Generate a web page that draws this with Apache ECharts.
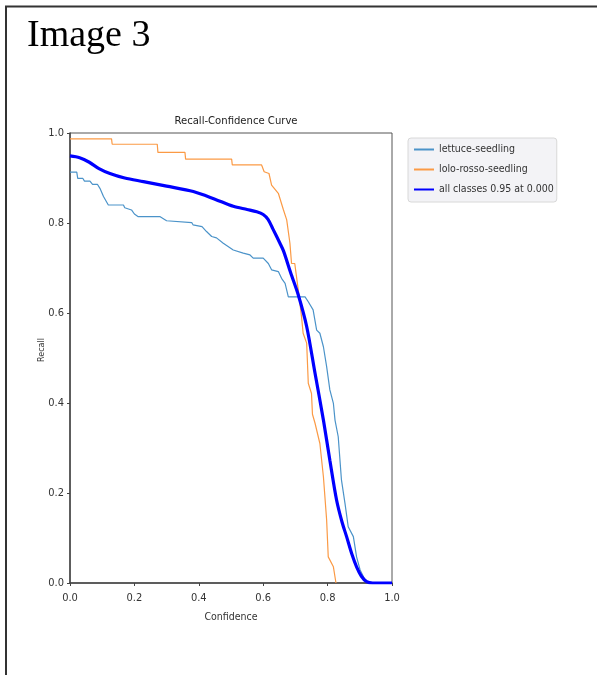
<!DOCTYPE html>
<html>
<head>
<meta charset="utf-8">
<script src="https://cdn.jsdelivr.net/npm/echarts@6/dist/echarts.min.js"></script>
<style>
  html, body { margin: 0; padding: 0; background: #fff; }
  #chart { width: 597px; height: 675px; }
</style>
</head>
<body>
<div id="chart"></div>
<script>
// Recall vs. confidence threshold for each class and the mean over classes
const seriesNames = ['lettuce-seedling', 'lolo-rosso-seedling', 'all classes 0.95 at 0.000'];
const axisTicks = [0.0, 0.2, 0.4, 0.6, 0.8, 1.0];

const lettuceConf = [0, 0.021, 0.024, 0.040, 0.045, 0.062, 0.070, 0.085, 0.093, 0.104, 0.119, 0.166, 0.170, 0.191, 0.200, 0.212, 0.280, 0.285, 0.300, 0.305, 0.378, 0.382, 0.410, 0.424, 0.440, 0.455, 0.476, 0.507, 0.538, 0.559, 0.569, 0.600, 0.616, 0.626, 0.647, 0.657, 0.668, 0.673, 0.678, 0.730, 0.740, 0.755, 0.766, 0.776, 0.787, 0.797, 0.807, 0.818, 0.823, 0.833, 0.843, 0.854, 0.864, 0.880, 0.890, 0.901, 0.916, 0.930, 1.0];
const lettuceRecall = [0.913, 0.913, 0.899, 0.899, 0.893, 0.893, 0.886, 0.886, 0.877, 0.859, 0.840, 0.840, 0.834, 0.829, 0.820, 0.814, 0.814, 0.810, 0.805, 0.801, 0.801, 0.796, 0.792, 0.781, 0.770, 0.767, 0.755, 0.740, 0.733, 0.729, 0.722, 0.722, 0.710, 0.696, 0.692, 0.677, 0.666, 0.651, 0.636, 0.636, 0.625, 0.607, 0.562, 0.555, 0.525, 0.481, 0.429, 0.399, 0.362, 0.325, 0.229, 0.177, 0.125, 0.103, 0.058, 0.029, 0.007, 0, 0];

const loloConf = [0, 0.129, 0.131, 0.271, 0.273, 0.357, 0.359, 0.502, 0.504, 0.595, 0.603, 0.618, 0.626, 0.647, 0.663, 0.673, 0.683, 0.688, 0.698, 0.709, 0.719, 0.724, 0.735, 0.740, 0.750, 0.753, 0.761, 0.771, 0.776, 0.787, 0.797, 0.802, 0.818, 0.826];
const loloRecall = [0.987, 0.987, 0.975, 0.975, 0.957, 0.957, 0.942, 0.942, 0.929, 0.929, 0.914, 0.910, 0.884, 0.866, 0.829, 0.807, 0.755, 0.710, 0.710, 0.651, 0.592, 0.555, 0.533, 0.444, 0.421, 0.375, 0.355, 0.325, 0.310, 0.236, 0.140, 0.058, 0.036, 0];

const allConf = [0, 0.03, 0.06, 0.09, 0.124, 0.17, 0.228, 0.30, 0.383, 0.45, 0.507, 0.55, 0.58, 0.60, 0.615, 0.63, 0.652, 0.663, 0.685, 0.709, 0.735, 0.76, 0.787, 0.807, 0.828, 0.845, 0.859, 0.875, 0.89, 0.905, 0.921, 0.94, 1.0];
const allRecall = [0.949, 0.945, 0.935, 0.921, 0.910, 0.900, 0.892, 0.882, 0.870, 0.853, 0.837, 0.830, 0.825, 0.819, 0.808, 0.787, 0.755, 0.738, 0.690, 0.640, 0.570, 0.470, 0.362, 0.273, 0.184, 0.135, 0.103, 0.065, 0.036, 0.015, 0.003, 0, 0];

const pairs = (xs, ys) => xs.map((x, i) => [x, ys[i]]);

const FONT = '"DejaVu Sans Condensed", "DejaVu Sans", sans-serif';
const chart = echarts.init(document.getElementById('chart'), null, { renderer: 'canvas' });

chart.setOption({
  animation: false,
  backgroundColor: '#ffffff',
  title: [
    {
      text: 'Image 3', left: 22, top: 12,
      textStyle: { fontFamily: '"Liberation Serif", "Times New Roman", serif', fontSize: 38, fontWeight: 'normal', color: '#000' }
    },
    {
      text: 'Recall-Confidence Curve', left: 231, top: 111, textAlign: 'center',
      textStyle: { fontFamily: FONT, fontSize: 11.2, fontWeight: 'normal', color: '#222' }
    }
  ],
  graphic: [
    { type: 'line', shape: { x1: 6, y1: 6, x2: 6, y2: 675 }, style: { stroke: '#333', lineWidth: 2 } },
    { type: 'line', shape: { x1: 5, y1: 6.5, x2: 597, y2: 6.5 }, style: { stroke: '#333', lineWidth: 2 } }
  ],
  legend: {
    orient: 'vertical', left: 408, top: 138,
    data: seriesNames,
    backgroundColor: '#f3f3f6', borderColor: '#d8d8d8', borderWidth: 1, borderRadius: 3,
    padding: [6, 3, 7, 5], itemGap: 9, itemWidth: 20, itemHeight: 12,
    itemStyle: { opacity: 0 },
    textStyle: { fontFamily: FONT, fontSize: 10.5, color: '#333' }
  },
  grid: { left: 70, right: 205, top: 133, bottom: 92, show: true, borderColor: '#555', borderWidth: 1 },
  xAxis: {
    type: 'value', min: 0, max: 1, interval: 0.2,
    name: 'Confidence', nameLocation: 'middle', nameGap: 29, nameMoveOverlap: false,
    nameTextStyle: { fontFamily: FONT, fontSize: 10.5, color: '#333' },
    axisLine: { show: true, lineStyle: { color: '#444', width: 1.5 } },
    axisTick: { show: true, length: 3, lineStyle: { color: '#444' } },
    axisLabel: { fontFamily: FONT, fontSize: 11, color: '#333', margin: 10, formatter: v => v.toFixed(1) },
    splitLine: { show: false }
  },
  yAxis: {
    type: 'value', min: 0, max: 1, interval: 0.2,
    name: 'Recall', nameLocation: 'middle', nameGap: 24, nameMoveOverlap: false,
    nameTextStyle: { fontFamily: '"DejaVu Sans", sans-serif', fontSize: 8, color: '#333', padding: [0, 0, 0, 16] },
    axisLine: { show: true, lineStyle: { color: '#444', width: 1.5 } },
    axisTick: { show: true, length: 3, lineStyle: { color: '#444' } },
    axisLabel: { fontFamily: FONT, fontSize: 11, color: '#333', margin: 6, formatter: v => v.toFixed(1) },
    splitLine: { show: false }
  },
  series: [
    {
      name: seriesNames[0], type: 'line', showSymbol: false, symbol: 'none',
      data: pairs(lettuceConf, lettuceRecall),
      lineStyle: { color: '#4b93c9', width: 1.2 }, itemStyle: { color: '#4b93c9' }, z: 2
    },
    {
      name: seriesNames[1], type: 'line', showSymbol: false, symbol: 'none',
      data: pairs(loloConf, loloRecall),
      lineStyle: { color: '#fb9a45', width: 1.2 }, itemStyle: { color: '#fb9a45' }, z: 3
    },
    {
      name: seriesNames[2], type: 'line', showSymbol: false, symbol: 'none', smooth: 0.3,
      data: pairs(allConf, allRecall),
      lineStyle: { color: '#0000ff', width: 3.2 }, itemStyle: { color: '#0000ff' }, z: 4
    }
  ]
});
</script>
</body>
</html>
